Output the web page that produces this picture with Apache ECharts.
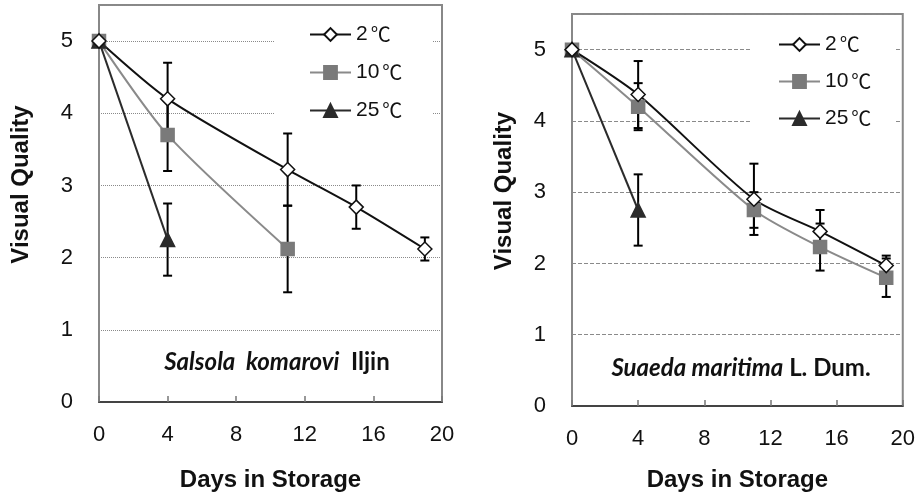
<!DOCTYPE html>
<html>
<head>
<meta charset="utf-8">
<script src="https://cdn.jsdelivr.net/npm/echarts@6/dist/echarts.min.js"></script>
<style>
html,body{margin:0;padding:0;background:#fff;}
#chart{width:918px;height:497px;}
</style>
</head>
<body>
<div id="chart"></div>
<script>
// ---- data ----
const seriesNames = ['2℃', '10℃', '25℃'];
const xTicks = [0, 4, 8, 12, 16, 20];
const yTicks = [0, 1, 2, 3, 4, 5];

// Salsola komarovi Iljin (left panel)
const skDays2 = [0, 4, 11, 15, 19];
const sk2 = [5, 4.2, 3.22, 2.7, 2.12];
const sk2Err = [0, 0.5, 0.5, 0.3, 0.16];
const skDays10 = [0, 4, 11];
const sk10 = [5, 3.7, 2.12];
const sk10Err = [0, 0.5, 0.6];
const skDays25 = [0, 4];
const sk25 = [5, 2.25];
const sk25Err = [0, 0.5];

// Suaeda maritima L. Dum. (right panel)
const smDays2 = [0, 4, 11, 15, 19];
const sm2 = [5, 4.37, 2.9, 2.45, 1.97];
const sm2Err = [0, 0.47, 0.5, 0.3, 0.14];
const smDays10 = [0, 4, 11, 15, 19];
const sm10 = [5, 4.2, 2.75, 2.23, 1.8];
const sm10Err = [0, 0.33, 0.25, 0.33, 0.27];
const smDays25 = [0, 4];
const sm25 = [5, 2.75];
const sm25Err = [0, 0.5];

// ---- helpers ----
const pairs = (xs, ys) => xs.map((x, i) => [x, ys[i]]);
const triples = (xs, ys, es) => xs.map((x, i) => [x, ys[i], es[i]]);

const FONT = 'Arial, "Liberation Sans", "Noto Sans CJK SC", sans-serif';
const CJK = '"Noto Sans CJK SC", sans-serif';
const ANNO = 'Lato, "Open Sans", sans-serif';

const styles = {
  '2℃': { line: '#111', symbol: 'diamond', size: 14, fill: '#fff', border: '#111' },
  '10℃': { line: '#8a8a8a', symbol: 'rect', size: 13, fill: '#7a7a7a', border: '#7a7a7a' },
  '25℃': { line: '#2b2b2b', symbol: 'triangle', size: 14, fill: '#2b2b2b', border: '#2b2b2b' }
};

function lineSeries(name, data, idx) {
  const s = styles[name];
  return {
    name: name, type: 'line', xAxisIndex: idx, yAxisIndex: idx,
    data: data, smooth: 0.25, z: 3,
    symbol: s.symbol, symbolSize: s.size, showAllSymbol: true,
    lineStyle: { color: s.line, width: 2 },
    itemStyle: { color: s.fill, borderColor: s.border, borderWidth: 1.5 },
    emphasis: { disabled: true },
    animation: false
  };
}

function errRender(params, api) {
  const x = api.value(0), y = api.value(1), e = api.value(2);
  if (!e) return null;
  const top = api.coord([x, y + e]);
  const bot = api.coord([x, y - e]);
  const hw = 4.5;
  const st = { stroke: '#000', lineWidth: 2 };
  return {
    type: 'group', children: [
      { type: 'line', shape: { x1: top[0], y1: top[1], x2: bot[0], y2: bot[1] }, style: st },
      { type: 'line', shape: { x1: top[0] - hw, y1: top[1], x2: top[0] + hw, y2: top[1] }, style: st },
      { type: 'line', shape: { x1: bot[0] - hw, y1: bot[1], x2: bot[0] + hw, y2: bot[1] }, style: st }
    ]
  };
}

function errSeries(data, idx) {
  return {
    type: 'custom', xAxisIndex: idx, yAxisIndex: idx, z: 2,
    renderItem: errRender, data: data, encode: { x: 0, y: 1 },
    silent: true, animation: false
  };
}

function xAxisCfg(idx, gap) {
  return {
    type: 'value', gridIndex: idx, min: xTicks[0], max: xTicks[xTicks.length - 1], interval: 4,
    name: 'Days in Storage', nameLocation: 'middle', nameGap: gap,
    nameTextStyle: { fontFamily: FONT, fontWeight: 'bold', fontSize: 24, color: '#111' },
    axisLine: { show: true, lineStyle: { color: '#444', width: 2 } },
    axisTick: { show: true, inside: true, length: 6, lineStyle: { color: '#777', width: 1.5 } },
    axisLabel: { fontFamily: FONT, fontSize: 22, color: '#111', margin: 22 },
    splitLine: { show: false }
  };
}

function yAxisCfg(idx, gap, dash) {
  return {
    type: 'value', gridIndex: idx, min: 0, max: 5.5, interval: 1,
    name: 'Visual Quality', nameLocation: 'middle', nameGap: gap, nameRotate: 90,
    nameTextStyle: { fontFamily: FONT, fontWeight: 'bold', fontSize: 24, color: '#111', padding: [0, 0, 0, 38] },
    axisLine: { show: false },
    axisTick: { show: false },
    axisLabel: {
      fontFamily: FONT, fontSize: 22, color: '#111', margin: 26,
      formatter: v => (yTicks.indexOf(v) >= 0 ? String(v) : '')
    },
    splitLine: { show: true, lineStyle: { color: '#8a8a8a', width: 1, type: dash } }
  };
}

const legendText = {
  fontFamily: FONT, fontSize: 20, color: '#111', lineHeight: 20,
  rich: {
    n: { fontFamily: FONT, fontSize: 21, color: '#111', lineHeight: 20 },
    c: { fontFamily: CJK, fontSize: 20, color: '#111', lineHeight: 20, padding: [0, 0, 0, 3] }
  }
};
const legendFmt = name => '{n|' + name.replace('℃', '') + '}{c|℃}';

const chart = echarts.init(document.getElementById('chart'), null, { renderer: 'canvas' });

chart.setOption({
  backgroundColor: '#fff',
  animation: false,
  grid: [
    { left: 99, top: 5, width: 343, height: 397, show: true, borderColor: '#888', borderWidth: 2, backgroundColor: 'transparent' },
    { left: 572, top: 14, width: 332, height: 392, show: true, borderColor: '#888', borderWidth: 2, backgroundColor: 'transparent' }
  ],
  xAxis: [xAxisCfg(0, 66), xAxisCfg(1, 62)],
  yAxis: [yAxisCfg(0, 66, 'dotted'), yAxisCfg(1, 56, [4, 2])],
  legend: [
    {
      orient: 'vertical', left: 275, top: 14, padding: [10, 30, 8, 34],
      backgroundColor: '#fff', itemWidth: 41, itemHeight: 16, itemGap: 17,
      data: seriesNames, selectedMode: false, formatter: legendFmt,
      textStyle: legendText
    },
    {
      orient: 'vertical', left: 750, top: 24, padding: [10, 24, 8, 28],
      backgroundColor: '#fff', itemWidth: 41, itemHeight: 16, itemGap: 16,
      data: seriesNames, selectedMode: false, formatter: legendFmt,
      textStyle: legendText
    }
  ],
  graphic: [
    {
      type: 'text', z: 10,
      x: 277, y: 362,
      style: {
        x: 0, y: 0,
        text: '{i|Salsola  komarovi}{n|  Iljin}',
        align: 'center', verticalAlign: 'middle',
        rich: {
          i: { fontFamily: ANNO, fontStyle: 'italic', fontWeight: 'bold', fontSize: 24, fill: '#111' },
          n: { fontFamily: ANNO, fontWeight: 'bold', fontSize: 24, fill: '#111' }
        }
      }
    },
    {
      type: 'text', z: 10,
      x: 741, y: 368,
      style: {
        x: 0, y: 0,
        text: '{i|Suaeda maritima}{n| L. Dum.}',
        align: 'center', verticalAlign: 'middle',
        rich: {
          i: { fontFamily: ANNO, fontStyle: 'italic', fontWeight: 'bold', fontSize: 24, fill: '#111' },
          n: { fontFamily: ANNO, fontWeight: 'bold', fontSize: 24, fill: '#111' }
        }
      }
    }
  ],
  series: [
    errSeries(triples(skDays2, sk2, sk2Err), 0),
    errSeries(triples(skDays10, sk10, sk10Err), 0),
    errSeries(triples(skDays25, sk25, sk25Err), 0),
    lineSeries('10℃', pairs(skDays10, sk10), 0),
    lineSeries('25℃', pairs(skDays25, sk25), 0),
    lineSeries('2℃', pairs(skDays2, sk2), 0),
    errSeries(triples(smDays2, sm2, sm2Err), 1),
    errSeries(triples(smDays10, sm10, sm10Err), 1),
    errSeries(triples(smDays25, sm25, sm25Err), 1),
    lineSeries('10℃', pairs(smDays10, sm10), 1),
    lineSeries('25℃', pairs(smDays25, sm25), 1),
    lineSeries('2℃', pairs(smDays2, sm2), 1)
  ]
});
</script>
</body>
</html>
